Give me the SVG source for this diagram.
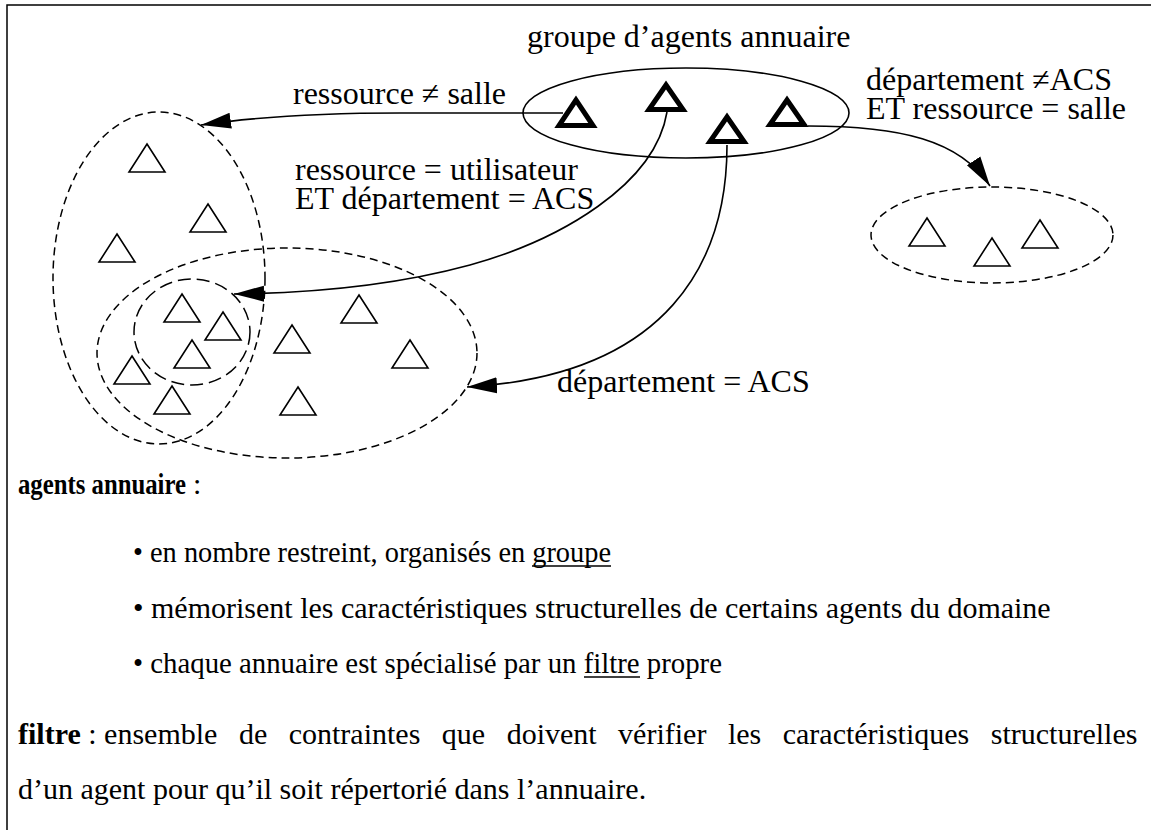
<svg xmlns="http://www.w3.org/2000/svg" xmlns:xlink="http://www.w3.org/1999/xlink" width="1151" height="830" viewBox="0 0 1151 830">
  <style>
    .lbl { font-family: "Liberation Serif", "Times New Roman", serif; font-size: 32px; fill: #000; }
    .txt { font-family: "Liberation Serif", "Times New Roman", serif; font-size: 30px; fill: #000; }
    .b { font-weight: bold; }
    .ul { stroke: #000; stroke-width: 1.5; }
    .set { fill: none; stroke: #000; stroke-width: 1.5; stroke-dasharray: 8 5; }
    .inner { fill: none; stroke: #000; stroke-width: 1.5; stroke-dasharray: 13 6; }
    .tri { fill: none; stroke: #000; stroke-width: 1.6; }
    .btri { fill: none; stroke: #000; stroke-width: 5; stroke-linejoin: miter; }
    .conn { fill: none; stroke: #000; stroke-width: 1.6; marker-end: url(#arr); }
  </style>
  <defs>
    <marker id="arr" markerUnits="userSpaceOnUse" markerWidth="32" markerHeight="18" viewBox="0 0 32 18" refX="30" refY="9" orient="auto">
      <path d="M0,1 L30,9 L0,17 Z" fill="#000"/>
    </marker>
    <path id="t" class="tri" d="M0,1 L18,29 L-18,29 Z"/>
  </defs>

  <rect width="1151" height="830" fill="#fff"/>
  <!-- frame: top and left edges only -->
  <path d="M7,830 L7,5 L1151,5" fill="none" stroke="#000" stroke-width="1.5"/>

  <!-- sets of domain agents -->
  <g id="set-salle-exclue">
    <ellipse class="set" cx="159" cy="278" rx="106" ry="166"/>
  </g>
  <g id="set-acs">
    <ellipse class="set" cx="287" cy="353" rx="190" ry="105"/>
  </g>
  <g id="set-utilisateur-acs">
    <ellipse class="inner" cx="192" cy="332" rx="58" ry="53"/>
  </g>
  <g id="set-salle-hors-acs">
    <ellipse class="set" cx="992" cy="235" rx="121" ry="48"/>
  </g>

  <!-- domain agents -->
  <g id="agent-a"><use xlink:href="#t" x="147" y="143"/></g>
  <g id="agent-b"><use xlink:href="#t" x="208" y="203"/></g>
  <g id="agent-c"><use xlink:href="#t" x="117" y="233"/></g>
  <g id="agent-d"><use xlink:href="#t" x="182" y="293"/></g>
  <g id="agent-e"><use xlink:href="#t" x="223" y="311"/></g>
  <g id="agent-f"><use xlink:href="#t" x="192" y="339"/></g>
  <g id="agent-g"><use xlink:href="#t" x="132" y="355"/></g>
  <g id="agent-h"><use xlink:href="#t" x="172" y="385"/></g>
  <g id="agent-i"><use xlink:href="#t" x="292" y="324"/></g>
  <g id="agent-j"><use xlink:href="#t" x="359" y="294"/></g>
  <g id="agent-k"><use xlink:href="#t" x="410" y="339"/></g>
  <g id="agent-l"><use xlink:href="#t" x="298" y="386"/></g>
  <g id="agent-m"><use xlink:href="#t" x="927" y="217"/></g>
  <g id="agent-n"><use xlink:href="#t" x="992" y="237"/></g>
  <g id="agent-o"><use xlink:href="#t" x="1040" y="219"/></g>

  <!-- group of directory agents -->
  <g id="groupe-annuaire">
    <ellipse cx="686" cy="113" rx="163" ry="45" fill="none" stroke="#000" stroke-width="1.6"/>
    <text class="lbl" x="527" y="47">groupe d’agents annuaire</text>
  </g>
  <g id="annuaire-1"><polygon class="btri" points="576,100 559,125.5 593,125.5"/></g>
  <g id="annuaire-2"><polygon class="btri" points="666,85 649,109.5 683,109.5"/></g>
  <g id="annuaire-3"><polygon class="btri" points="727,117 710,141.5 744,141.5"/></g>
  <g id="annuaire-4"><polygon class="btri" points="787,100 770,124.5 804,124.5"/></g>

  <!-- filters from each directory agent to its set -->
  <g id="connectors">
    <path class="conn" d="M563,113 L400,113 C330,113 262,116 201,125"/>
    <path class="conn" d="M667,112 C655,185 560,240 470,265 C400,284 320,293 234,294"/>
    <path class="conn" d="M727,145 C727,260 670,375 467,387"/>
    <path class="conn" d="M808,126 C900,126 960,140 990,186"/>
  </g>

  <!-- filter labels -->
  <g id="labels">
    <text class="lbl" x="293" y="104">ressource ≠ salle</text>
    <text class="lbl" x="295" y="180">ressource = utilisateur</text>
    <text class="lbl" x="295" y="209">ET département = ACS</text>
    <text class="lbl" x="866" y="90">département ≠ACS</text>
    <text class="lbl" x="866" y="119">ET ressource = salle</text>
    <text class="lbl" x="557" y="392">département = ACS</text>
  </g>

  <!-- explanatory text -->
  <g id="notes">
    <text class="txt b" x="18" y="494" textLength="168" lengthAdjust="spacingAndGlyphs">agents annuaire</text>
    <text class="txt" x="193" y="494">:</text>
    <text class="txt" x="133" y="562" textLength="478" lengthAdjust="spacingAndGlyphs">• en nombre restreint, organisés en groupe</text>
    <line class="ul" x1="532" y1="566" x2="611" y2="566"/>
    <text class="txt" x="133" y="618">• mémorisent les caractéristiques structurelles de certains agents du domaine</text>
    <text class="txt" x="133" y="673" textLength="589" lengthAdjust="spacingAndGlyphs">• chaque annuaire est spécialisé par un filtre propre</text>
    <line class="ul" x1="584" y1="677" x2="640" y2="677"/>
    <text class="txt" x="18" y="744"><tspan class="b">filtre</tspan> : <tspan word-spacing="14">ensemble de contraintes que doivent vérifier les caractéristiques structurelles</tspan></text>
    <text class="txt" x="18" y="799">d’un agent pour qu’il soit répertorié dans l’annuaire.</text>
  </g>
</svg>
